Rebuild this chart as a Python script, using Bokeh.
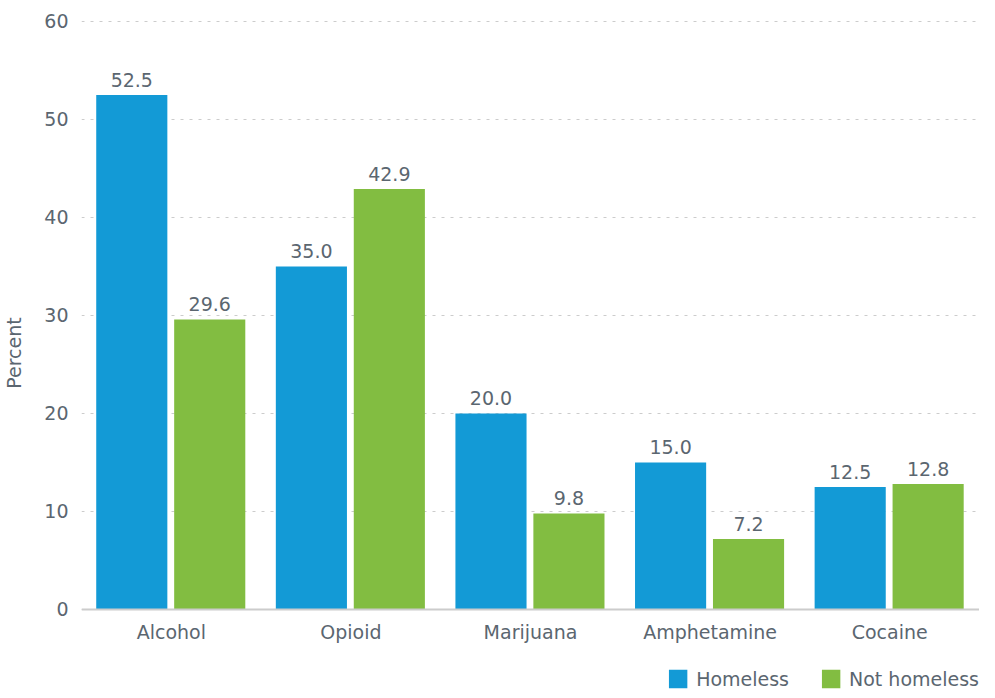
from bokeh.plotting import figure
from bokeh.models import ColumnDataSource, FactorRange, Legend, LegendItem, Range1d, LabelSet, Span
from bokeh.transform import dodge
from bokeh.core.properties import value
from bokeh.embed import file_html
from bokeh.resources import INLINE

categories = ["Alcohol", "Opioid", "Marijuana", "Amphetamine", "Cocaine"]
homeless = [52.5, 35.0, 20.0, 15.0, 12.5]
not_homeless = [29.6, 42.9, 9.8, 7.2, 12.8]
series_names = ["Homeless", "Not homeless"]
y_ticks = [0, 10, 20, 30, 40, 50, 60]

BLUE = "#139ad6"
GREEN = "#82bd41"
TXT = "#5b6670"
FONT = "DejaVu Sans"
FS = "19px"

src = ColumnDataSource(dict(
    cat=categories,
    h=homeless,
    n=not_homeless,
    base=[0] * len(categories),
    hl=[f"{v:.1f}" for v in homeless],
    nl=[f"{v:.1f}" for v in not_homeless],
))

p = figure(x_range=FactorRange(*categories, range_padding=0), y_range=Range1d(-8.27, 60.61),
           width=979, height=690, output_backend="svg", toolbar_location=None,
           x_axis_location=None,
           min_border_left=80, min_border_right=0, min_border_top=15, min_border_bottom=0)
p.outline_line_color = None

rh = p.vbar(x=dodge("cat", -0.22, range=p.x_range), top="h", width=0.396, source=src,
            color=BLUE, line_color=None)
rn = p.vbar(x=dodge("cat", 0.214, range=p.x_range), top="n", width=0.396, source=src,
            color=GREEN, line_color=None)

for xo, col in [(-0.22, "h"), (0.214, "n")]:
    lab = LabelSet(x=dodge("cat", xo, range=p.x_range), y=col, text=col + "l", source=src,
                   text_align="center", text_baseline="bottom", y_offset=8,
                   text_font=value(FONT), text_font_size=FS, text_color=TXT)
    p.add_layout(lab)

# category labels under the zero line
p.text(x="cat", y="base", text="cat", source=src, text_align="center", text_baseline="middle",
       y_offset=23, text_font=value(FONT), text_font_size=FS, text_color=TXT)

p.add_layout(Span(location=0, dimension="width", line_color="#cccccc", line_width=2))

p.yaxis.ticker = y_ticks
p.yaxis.axis_line_color = None
p.yaxis.major_tick_line_color = None
p.yaxis.minor_tick_line_color = None
p.yaxis.major_label_text_font = FONT
p.yaxis.major_label_text_font_size = FS
p.yaxis.major_label_text_color = TXT
p.yaxis.major_label_standoff = 7
p.yaxis.axis_label = "Percent"
p.yaxis.axis_label_text_font = FONT
p.yaxis.axis_label_text_font_size = FS
p.yaxis.axis_label_text_font_style = "normal"
p.yaxis.axis_label_text_color = TXT
p.yaxis.axis_label_standoff = 16

p.xgrid.grid_line_color = None
p.ygrid.grid_line_color = "#cccccc"
p.ygrid.grid_line_dash = "3 6"
p.ygrid.grid_line_width = 1

legend = Legend(items=[LegendItem(label=series_names[0], renderers=[rh]),
                       LegendItem(label=series_names[1], renderers=[rn])],
                orientation="horizontal", location="bottom_right",
                label_text_font=FONT, label_text_font_size=FS, label_text_color=TXT,
                glyph_width=23, glyph_height=23, spacing=30, label_standoff=7,
                label_height=23,
                border_line_color=None, background_fill_alpha=0, padding=0, margin=0)
p.add_layout(legend, "center")

open("out.html", "w").write(file_html(p, INLINE))
